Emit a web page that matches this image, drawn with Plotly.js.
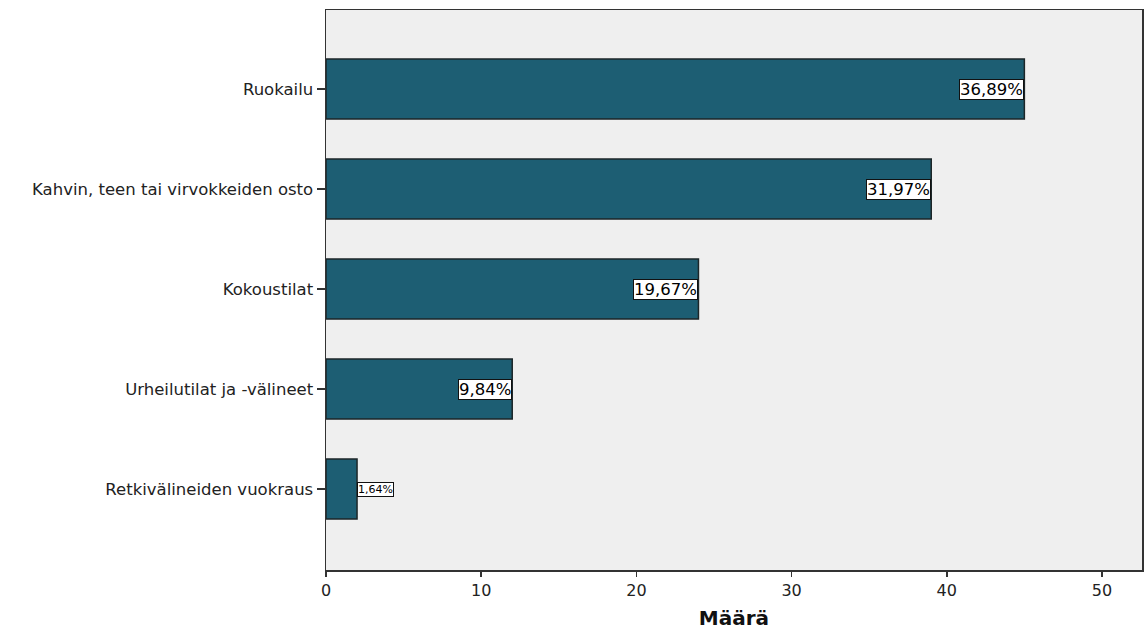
<!DOCTYPE html>
<html>
<head>
<meta charset="utf-8">
<script src="https://cdn.plot.ly/plotly-3.0.1.min.js"></script>
<style>html,body{margin:0;padding:0;background:#fff;}</style>
</head>
<body>
<div id="chart" style="width:1147px;height:630px;"></div>
<script>
const categories = [
  "Ruokailu",
  "Kahvin, teen tai virvokkeiden osto",
  "Kokoustilat",
  "Urheilutilat ja -välineet",
  "Retkivälineiden vuokraus"
];
const counts = [45, 39, 24, 12, 2];
const xTickValues = [0, 10, 20, 30, 40, 50];

const total = counts.reduce((a, b) => a + b, 0);
const pctText = counts.map(v => (v / total * 100).toFixed(2).replace('.', ',') + '%');

const FONT = 'DejaVu Sans, Verdana, sans-serif';

const trace = {
  type: 'bar',
  orientation: 'h',
  x: counts,
  y: categories,
  width: 0.6,
  marker: { color: '#1d5e73', line: { color: '#1c2628', width: 1.5 } },
  hoverinfo: 'x+y'
};

const annotations = counts.map((v, i) => {
  const small = v < 5;
  return {
    x: v, y: categories[i], xref: 'x', yref: 'y',
    text: pctText[i],
    showarrow: false,
    xanchor: small ? 'left' : 'right',
    yanchor: 'middle',
    font: { family: FONT, size: small ? 11 : 16.5, color: '#000' },
    bgcolor: '#ffffff',
    bordercolor: '#111',
    borderwidth: 1,
    borderpad: 0
  };
});

const layout = {
  width: 1147, height: 630,
  margin: { l: 326, r: 5, t: 10, b: 60 },
  paper_bgcolor: '#ffffff',
  plot_bgcolor: '#efefef',
  showlegend: false,
  font: { family: FONT, color: '#222' },
  xaxis: {
    range: [0, 52.58],
    tickvals: xTickValues,
    ticks: 'outside', ticklen: 5, tickwidth: 1.5, tickcolor: '#333',
    tickfont: { family: FONT, size: 16, color: '#222' },
    showgrid: false, zeroline: false,
    showline: true, linecolor: '#333', linewidth: 1.5, mirror: true,
    title: { text: '<b>Määrä</b>', font: { family: FONT, size: 20, color: '#111' }, standoff: 12 }
  },
  yaxis: {
    type: 'category',
    categoryorder: 'array', categoryarray: categories,
    range: [4.81, -0.79],
    ticks: 'outside', ticklen: 8, tickwidth: 1.5, tickcolor: '#333',
    tickfont: { family: FONT, size: 16.5, color: '#222' },
    ticklabelstandoff: 0,
    showgrid: false, zeroline: false,
    showline: true, linecolor: '#333', linewidth: 1.5, mirror: true
  },
  annotations: annotations
};

Plotly.newPlot('chart', [trace], layout, { displayModeBar: false, staticPlot: true });
</script>
</body>
</html>
